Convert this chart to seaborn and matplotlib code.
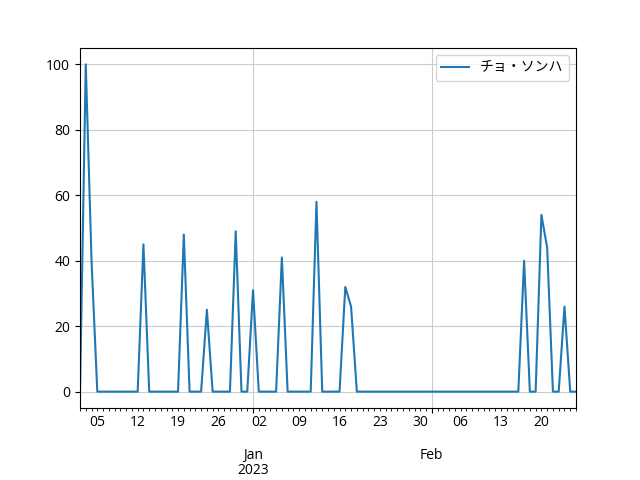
import pandas as pd
import matplotlib.pyplot as plt
import matplotlib.dates as mdates
import matplotlib.ticker as mticker
import seaborn as sns

plt.rcParams['font.family'] = ['Open Sans', 'Noto Sans CJK JP', 'DejaVu Sans']

# daily search interest, 2022-12-02 .. 2023-02-26
start_date = "2022-12-02"
series_name = "チョ・ソンハ"
interest = [
    0, 100, 40, 0, 0, 0, 0, 0, 0, 0,       # Dec 02 - Dec 11
    0, 45, 0, 0, 0, 0, 0, 0, 48, 0,        # Dec 12 - Dec 21
    0, 0, 25, 0, 0, 0, 0, 49, 0, 0,        # Dec 22 - Dec 31
    31, 0, 0, 0, 0, 41, 0, 0, 0, 0,        # Jan 01 - Jan 10
    0, 58, 0, 0, 0, 0, 32, 26, 0, 0,       # Jan 11 - Jan 20
    0, 0, 0, 0, 0, 0, 0, 0, 0, 0,          # Jan 21 - Jan 30
    0, 0, 0, 0, 0, 0, 0, 0, 0, 0,          # Jan 31 - Feb 09
    0, 0, 0, 0, 0, 0, 0, 40, 0, 0,         # Feb 10 - Feb 19
    54, 44, 0, 0, 26, 0, 0,                # Feb 20 - Feb 26
]
month_starts = ["2023-01-01", "2023-02-01"]
month_labels = ["Jan\n2023", "Feb"]

dates = pd.date_range(start_date, periods=len(interest), freq="D")
df = pd.DataFrame({"date": dates, "value": interest})

fig, ax = plt.subplots(figsize=(6.4, 4.8), dpi=100)
fig.subplots_adjust(left=0.125, right=0.9, bottom=0.15, top=0.9)

sns.lineplot(data=df, x="date", y="value", ax=ax, label=series_name)

ax.set_xlim(dates[0], dates[-1])
ax.set_ylim(-5, 105)

# pandas-like date axis: months major, days minor, mondays labelled
ax.xaxis.set_major_locator(mticker.FixedLocator(
    [mdates.date2num(pd.Timestamp(d)) for d in month_starts]))
ax.xaxis.set_major_formatter(mticker.FixedFormatter(month_labels))
ax.xaxis.set_minor_locator(mdates.DayLocator())


def monday_label(x, pos):
    d = mdates.num2date(x)
    return d.strftime("%d") if d.weekday() == 0 else ""


ax.xaxis.set_minor_formatter(mticker.FuncFormatter(monday_label))
ax.tick_params(axis="x", which="major", pad=25)
for lbl in ax.xaxis.get_majorticklabels():
    lbl.set_linespacing(1.05)

ax.set_xlabel("")
ax.set_ylabel("")
ax.grid(True, color="#cccccc")
ax.legend(loc="upper right")

fig.savefig("out.png")
